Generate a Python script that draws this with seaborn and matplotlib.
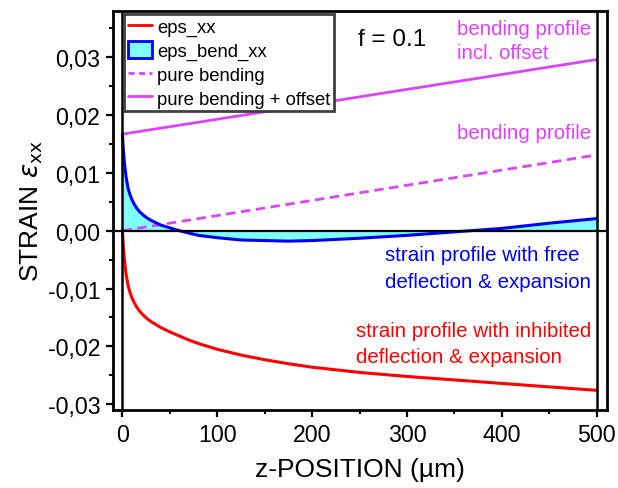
import numpy as np
import pandas as pd
import matplotlib
matplotlib.use("Agg")
import matplotlib.pyplot as plt
import seaborn as sns
from matplotlib.lines import Line2D
from matplotlib.patches import Patch
from matplotlib.ticker import FuncFormatter, MultipleLocator

# z position through the sample thickness (µm)
z_pos = [0, 1, 2, 3, 4, 6, 8, 10, 12, 15, 18, 22, 26, 30, 35, 40, 50, 60, 70,
         80, 90, 100, 125, 150, 175, 200, 250, 300, 350, 400, 450, 500]

# strain with inhibited deflection & expansion
eps_xx = [0.0, -0.0028, -0.0048, -0.0064, -0.0077, -0.0095, -0.0107, -0.0116,
          -0.0123, -0.0132, -0.0139, -0.0146, -0.0152, -0.0157, -0.0162,
          -0.0167, -0.0175, -0.0182, -0.0189, -0.0195, -0.0200, -0.0205,
          -0.0215, -0.0223, -0.0230, -0.0236, -0.0245, -0.0252, -0.0258,
          -0.0264, -0.0270, -0.0276]

# strain with free deflection & expansion
eps_bend_xx = [0.0167, 0.0139, 0.0119, 0.0104, 0.0091, 0.0073, 0.0062, 0.0054,
               0.0047, 0.0039, 0.0033, 0.0027, 0.0022, 0.0018, 0.0014, 0.0010,
               0.0005, 0.0000, -0.0004, -0.0008, -0.0010, -0.0012, -0.0016,
               -0.0017, -0.0018, -0.0017, -0.0013, -0.0008, -0.0002, 0.0004,
               0.0013, 0.0021]

# linear bending profiles (end points)
z_line = [0, 500]
pure_bending = [0.0, 0.0131]
bending_offset = [0.0167, 0.0296]

y_ticks = [-0.03, -0.02, -0.01, 0.0, 0.01, 0.02, 0.03]
x_ticks = [0, 100, 200, 300, 400, 500]

RED = "#FF0000"
BLUE = "#0000F0"
CYAN = "#80FFFF"
MAGENTA = "#DD44FA"

sns.set_style("ticks")
plt.rcParams["font.family"] = ["Liberation Sans", "DejaVu Sans"]
plt.rcParams["mathtext.fontset"] = "dejavusans"
for key in ("text.color", "axes.labelcolor", "xtick.color", "ytick.color"):
    plt.rcParams[key] = "black"

fig = plt.figure(figsize=(6.18, 4.89), dpi=100)
ax = fig.add_axes([0.1828, 0.1595, 0.7994, 0.816])

curves = pd.DataFrame({"z": z_pos, "eps_xx": eps_xx, "eps_bend_xx": eps_bend_xx})
lines = pd.DataFrame({"z": z_line, "pure": pure_bending, "offset": bending_offset})

ax.fill_between(curves["z"], curves["eps_bend_xx"], 0, color=CYAN, lw=0, zorder=1)
sns.lineplot(data=lines, x="z", y="offset", color=MAGENTA, lw=2, ax=ax, zorder=3)
sns.lineplot(data=lines, x="z", y="pure", color=MAGENTA, lw=2, ax=ax,
             zorder=3).lines[-1].set_dashes((3.4, 2.0))
sns.lineplot(data=curves, x="z", y="eps_bend_xx", color=BLUE, lw=2.2, ax=ax, zorder=4)
sns.lineplot(data=curves, x="z", y="eps_xx", color=RED, lw=2.2, ax=ax, zorder=4)

# reference lines
ax.axhline(0, color="black", lw=1.6, zorder=5)
ax.axvline(0, color="black", lw=1.8, zorder=5)
ax.axvline(500, color="black", lw=1.8, zorder=5)

ax.set_xlim(-10, 511)
ax.set_ylim(-0.031, 0.038)
ax.xaxis.set_major_locator(plt.FixedLocator(x_ticks))
ax.xaxis.set_minor_locator(MultipleLocator(50))
ax.yaxis.set_major_locator(plt.FixedLocator(y_ticks))
ax.yaxis.set_minor_locator(MultipleLocator(0.005))
ax.yaxis.set_major_formatter(FuncFormatter(
    lambda v, p: f"{v:.2f}".replace(".", ",").replace("-0,00", "0,00")))

ax.tick_params(axis="both", which="major", direction="out", length=5, width=1.6,
               labelsize=16.7, colors="black", pad=4)
ax.tick_params(axis="both", which="minor", direction="out", length=3, width=1.4)
ax.tick_params(top=False, right=False)
for s in ax.spines.values():
    s.set_visible(True)
    s.set_linewidth(2)
    s.set_color("black")

ax.set_xlabel("z-POSITION (µm)", fontsize=19, labelpad=8)
ax.set_ylabel(r"STRAIN $\varepsilon_{\mathrm{xx}}$", fontsize=19, labelpad=2)

# annotations
ax.text(284.5, 0.0331, "f = 0.1", fontsize=17.5, ha="center", va="center")
ax.text(353, 0.0350, "bending profile", fontsize=14.8, color=MAGENTA, va="center")
ax.text(353, 0.0309, "incl. offset", fontsize=14.8, color=MAGENTA, va="center")
ax.text(353, 0.0170, "bending profile", fontsize=14.8, color=MAGENTA, va="center")
ax.text(277, -0.0041, "strain profile with free", fontsize=14.8, color=BLUE, va="center")
ax.text(277, -0.0087, "deflection & expansion", fontsize=14.8, color=BLUE, va="center")
ax.text(246, -0.0173, "strain profile with inhibited", fontsize=14.8, color=RED, va="center")
ax.text(246, -0.0217, "deflection & expansion", fontsize=14.8, color=RED, va="center")

handles = [
    Line2D([], [], color=RED, lw=2),
    Patch(facecolor=CYAN, edgecolor=BLUE, lw=2),
    Line2D([], [], color=MAGENTA, lw=2, dashes=(2.2, 1.6)),
    Line2D([], [], color=MAGENTA, lw=2),
]
labels = ["eps_xx", "eps_bend_xx", "pure bending", "pure bending + offset"]
leg = ax.legend(handles, labels, loc="upper left", bbox_to_anchor=(0.022, 0.993),
                fontsize=13.3, frameon=True, fancybox=False, framealpha=1,
                edgecolor="#404040", borderpad=0.2, labelspacing=0.28,
                handlelength=1.3, handleheight=1.0, handletextpad=0.3,
                borderaxespad=0)
leg.get_frame().set_linewidth(2)
leg.set_zorder(10)

fig.savefig("out.png", dpi=100)
